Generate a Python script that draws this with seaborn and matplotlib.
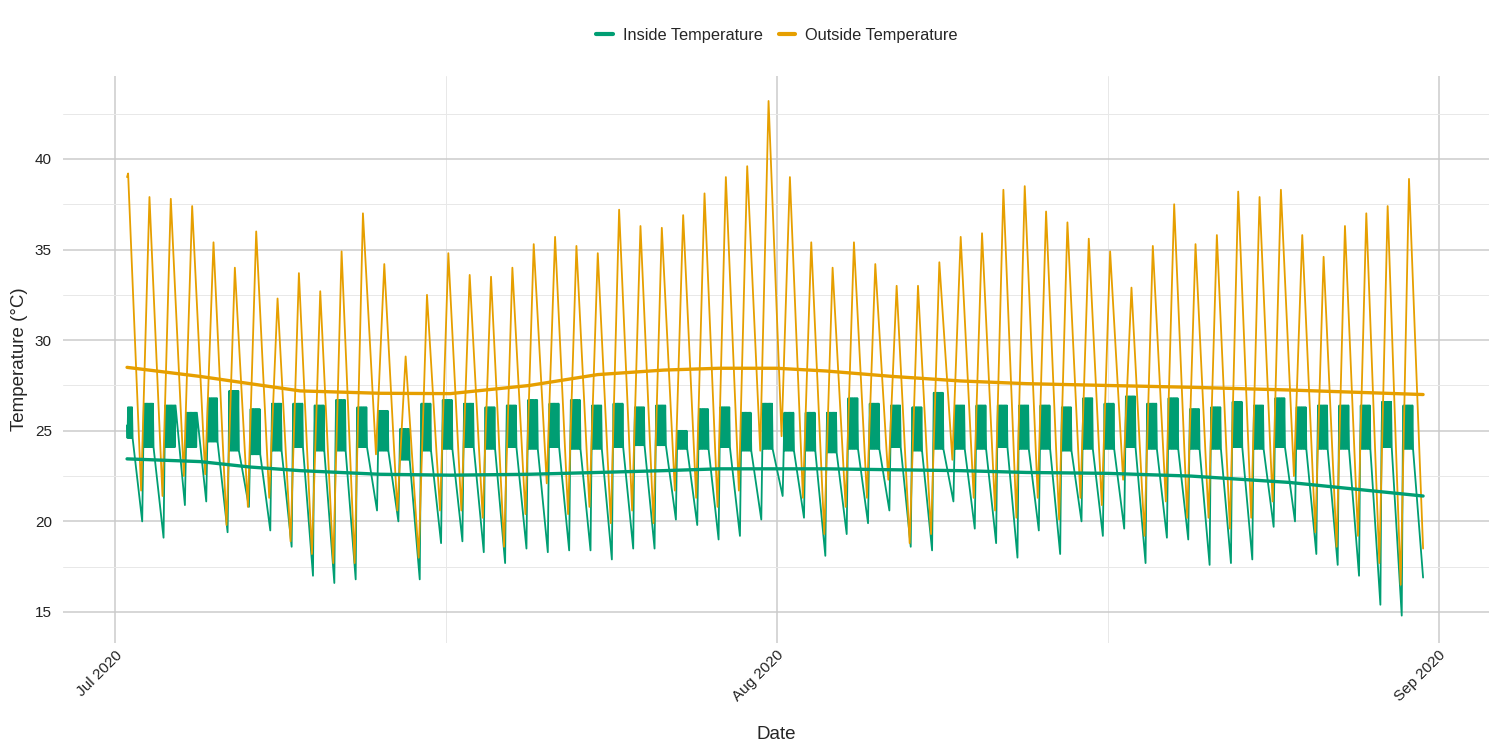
import numpy as np
import pandas as pd
import matplotlib
matplotlib.use("Agg")
import matplotlib.pyplot as plt
import matplotlib.dates as mdates
from matplotlib.lines import Line2D
from matplotlib.ticker import MultipleLocator, FixedLocator
import seaborn as sns

START = pd.Timestamp("2020-07-01")

# daily readings, day 0 = 1 Jul 2020
outside_max = [39.2, 37.9, 37.8, 37.4, 35.4, 34.0, 36.0, 32.3, 33.7, 32.7,
               34.9, 37.0, 34.2, 29.1, 32.5, 34.8, 33.6, 33.5, 34.0, 35.3,
               35.7, 35.2, 34.8, 37.2, 36.3, 36.2, 36.9, 38.1, 39.0, 39.6,
               43.2, 39.0, 35.4, 34.0, 35.4, 34.2, 33.0, 33.0, 34.3, 35.7,
               35.9, 38.3, 38.5, 37.1, 36.5, 35.6, 34.9, 32.9, 35.2, 37.5,
               35.3, 35.8, 38.2, 37.9, 38.3, 35.8, 34.6, 36.3, 37.0, 37.4,
               38.9]
# night lows, days 1..60
outside_min = [21.7, 21.4, 22.5, 22.6, 19.8, 20.8, 21.3, 18.9, 18.2, 17.7,
               17.7, 23.7, 20.6, 18.0, 20.6, 20.6, 20.2, 18.6, 20.4, 22.1,
               20.4, 20.8, 19.9, 20.6, 19.9, 21.7, 21.3, 20.8, 21.7, 23.9,
               24.7, 21.3, 19.3, 20.8, 21.3, 22.3, 18.8, 19.3, 23.4, 21.3,
               20.6, 20.2, 21.3, 20.1, 21.3, 20.9, 22.3, 19.2, 21.1, 20.2,
               20.2, 19.6, 20.2, 21.1, 22.5, 19.4, 18.6, 19.2, 17.7, 16.5]
inside_min = [20.0, 19.1, 20.9, 21.1, 19.4, 20.8, 19.5, 18.6, 17.0, 16.6,
              16.8, 20.6, 20.0, 16.8, 18.8, 18.9, 18.3, 17.7, 18.5, 18.3,
              18.4, 18.4, 17.9, 18.5, 18.5, 20.1, 19.8, 19.0, 19.2, 20.1,
              21.4, 20.2, 18.1, 19.3, 19.9, 20.6, 18.6, 18.4, 21.1, 19.6,
              18.8, 18.0, 19.5, 18.2, 20.0, 19.2, 19.6, 17.7, 19.1, 19.0,
              17.6, 17.7, 17.9, 19.7, 20.0, 18.2, 17.6, 17.0, 15.4, 14.8]
# daytime band of the inside sensor, days 0..60
inside_top = [26.3, 26.5, 26.4, 26.0, 26.8, 27.2, 26.2, 26.5, 26.5, 26.4,
              26.7, 26.3, 26.1, 25.1, 26.5, 26.7, 26.5, 26.3, 26.4, 26.7,
              26.5, 26.7, 26.4, 26.5, 26.3, 26.4, 25.0, 26.2, 26.3, 26.0,
              26.5, 26.0, 26.0, 26.0, 26.8, 26.5, 26.4, 26.3, 27.1, 26.4,
              26.4, 26.4, 26.4, 26.4, 26.3, 26.8, 26.5, 26.9, 26.5, 26.8,
              26.2, 26.3, 26.6, 26.4, 26.8, 26.3, 26.4, 26.4, 26.4, 26.6,
              26.4]
inside_band_low = [24.6, 24.1, 24.1, 24.1, 24.4, 23.9, 23.7, 23.9, 24.1, 23.9,
                   23.9, 24.1, 23.9, 23.4, 23.9, 24.0, 24.1, 24.0, 24.1, 24.0,
                   24.1, 24.0, 24.0, 24.1, 24.2, 24.2, 24.0, 24.0, 24.1, 23.9,
                   24.0, 23.9, 23.9, 23.8, 24.0, 24.0, 24.1, 23.9, 24.0, 24.0,
                   24.0, 24.1, 24.0, 24.0, 23.9, 24.0, 24.0, 24.1, 24.0, 24.0,
                   24.0, 24.0, 24.1, 24.0, 24.1, 24.0, 24.0, 24.0, 24.0, 24.1,
                   24.0]
outside_first, outside_last = 39.0, 18.5
inside_first, inside_last = 25.3, 16.9

# smoothed trends (days since 1 Jul)
trend_days = [0.56, 3.98, 6.32, 8.67, 12.4, 15.7, 19.4, 22.6, 25.7, 28.3,
              31.0, 33.3, 36.4, 39.6, 42.7, 46.5, 50.4, 55.0, 61.27]
outside_trend = [28.5, 28.0, 27.6, 27.2, 27.07, 27.05, 27.5, 28.1, 28.35, 28.45,
                 28.45, 28.3, 28.0, 27.75, 27.6, 27.5, 27.4, 27.25, 27.0]
inside_trend = [23.45, 23.3, 23.0, 22.8, 22.6, 22.55, 22.6, 22.7, 22.8, 22.9,
                22.9, 22.9, 22.85, 22.8, 22.7, 22.65, 22.5, 22.15, 21.4]

INSIDE, OUTSIDE = "Inside Temperature", "Outside Temperature"
COLORS = {INSIDE: "#009E73", OUTSIDE: "#E69F00"}


def to_time(days):
    return START + pd.to_timedelta(np.asarray(days, dtype=float), unit="D")


def build_outside():
    t, v = [0.56], [outside_first]
    for d, peak in enumerate(outside_max):
        if d > 0:
            t.append(d + 0.22)
            v.append(outside_min[d - 1])
        t.append(d + 0.61)
        v.append(peak)
    t.append(61.27)
    v.append(outside_last)
    return pd.DataFrame({"time": to_time(t), "temp": v, "series": OUTSIDE})


def build_inside():
    # sharp dip at dawn, busy daytime band, slow fall through the night
    t, v = [0.56], [inside_first]
    for d in range(len(inside_top)):
        if d > 0:
            t.append(d + 0.27)
            v.append(inside_min[d - 1])
            start = d + 0.32
        else:
            start = 0.58
        for i, s in enumerate(np.arange(start, d + 0.83, 0.03)):
            t.append(s)
            v.append(inside_top[d] if i % 2 else inside_band_low[d])
    t.append(61.27)
    v.append(inside_last)
    return pd.DataFrame({"time": to_time(t), "temp": v, "series": INSIDE})


raw = pd.concat([build_inside(), build_outside()], ignore_index=True)
trend = pd.concat([
    pd.DataFrame({"time": to_time(trend_days), "temp": inside_trend, "series": INSIDE}),
    pd.DataFrame({"time": to_time(trend_days), "temp": outside_trend, "series": OUTSIDE}),
], ignore_index=True)

sns.set_style("white")
plt.rcParams["font.family"] = ["Liberation Sans", "DejaVu Sans"]

fig, ax = plt.subplots(figsize=(15, 7.5), dpi=100)
fig.subplots_adjust(left=0.042, right=0.9927, bottom=0.1427, top=0.8987)

sns.lineplot(data=raw, x="time", y="temp", hue="series", palette=COLORS,
             estimator=None, sort=False, linewidth=1.3, legend=False, ax=ax)
sns.lineplot(data=trend, x="time", y="temp", hue="series", palette=COLORS,
             estimator=None, sort=False, linewidth=2.4, legend=False, ax=ax)

ax.set_xlim(to_time([-2.44])[0], to_time([64.36])[0])
ax.set_ylim(13.29, 44.58)
ax.xaxis.set_major_locator(mdates.MonthLocator())
ax.xaxis.set_major_formatter(mdates.DateFormatter("%b %Y"))
ax.xaxis.set_minor_locator(FixedLocator(mdates.date2num(to_time([15.5, 46.5]))))
ax.yaxis.set_major_locator(MultipleLocator(5))
ax.yaxis.set_minor_locator(MultipleLocator(2.5))
ax.grid(which="major", color="#cbcbcb", linewidth=1.1)
ax.grid(which="minor", color="#e8e8e8", linewidth=0.7)
ax.set_axisbelow(True)
for s in ax.spines.values():
    s.set_visible(False)
ax.tick_params(which="both", length=0, labelsize=11, colors="#222222")
ax.tick_params(axis="y", pad=8)
for lab in ax.get_xticklabels():
    lab.set_rotation(45)
    lab.set_ha("right")
    lab.set_va("top")
    lab.set_rotation_mode("anchor")

ax.set_xlabel("Date", fontsize=13.5, labelpad=16)
ax.set_ylabel("Temperature (°C)", fontsize=13.5, labelpad=5)

# legend sits over the middle of the panel, not the figure
handles = [Line2D([0], [0], color=COLORS[k], linewidth=3) for k in (INSIDE, OUTSIDE)]
fig.legend(handles, [INSIDE, OUTSIDE], loc="center", bbox_to_anchor=(0.518, 0.953),
           ncol=2, frameon=False, fontsize=11.8, handlelength=1.0,
           handletextpad=0.6, columnspacing=1.0)

fig.savefig("out.png", dpi=100)
